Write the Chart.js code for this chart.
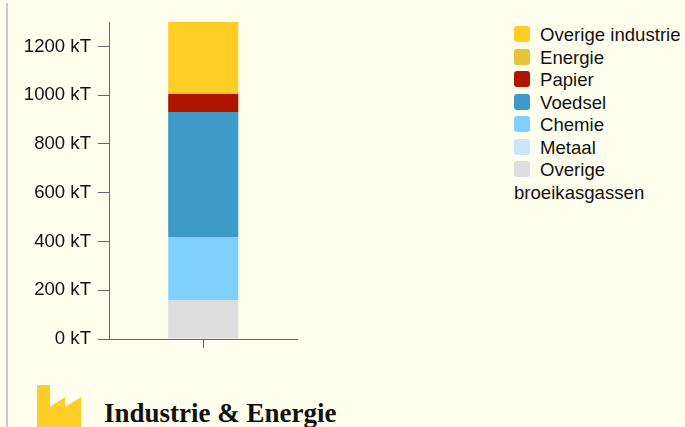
<!DOCTYPE html>
<html>
<head>
<meta charset="utf-8">
<script src="https://cdn.jsdelivr.net/npm/chart.js@4"></script>
<style>
  html, body { margin: 0; padding: 0; width: 685px; height: 427px; overflow: hidden; background: #ffffee; }
  #rule { position: absolute; left: 6px; top: 3px; bottom: 0; width: 2px; background: #cccccc; }
  #chart-box { position: absolute; left: 0; top: 0; width: 320px; height: 370px; }
  #legend { position: absolute; left: 514px; top: 24px; width: 171px; font: 18.6px/22.5px "Liberation Sans", sans-serif; color: #111; }
  #legend .swatch { display: inline-block; width: 16px; height: 16px; border-radius: 3px; margin-right: 10px; vertical-align: -1px; }
  #icon { position: absolute; left: 37px; top: 385px; }
  #title { position: absolute; left: 104px; top: 398px; font: bold 27px "Liberation Serif", serif; color: #111; white-space: nowrap; }
</style>
</head>
<body>
<div id="rule"></div>
<div id="chart-box"><canvas id="chart"></canvas></div>
<div id="legend"></div>
<svg id="icon" width="44" height="42"><path d="M0 0H13V22L28 12V22L44 12V42H0Z" fill="#ffce26"/></svg>
<div id="title">Industrie &amp; Energie</div>
<script>
// data, bottom of the stack first
const categories = [''];
const seriesNames = ['Overige broeikasgassen', 'Metaal', 'Chemie', 'Voedsel', 'Papier', 'Energie', 'Overige industrie'];
const seriesColors = ['#dddddd', '#cce5ff', '#80d0ff', '#3d9ac9', '#b01500', '#e8c237', '#ffce26'];
const overigeBroeikasgassen = [160];
const metaal = [0];
const chemie = [258];
const voedsel = [513];
const papier = [74];
const energie = [8];
const overigeIndustrie = [287];
const seriesValues = [overigeBroeikasgassen, metaal, chemie, voedsel, papier, energie, overigeIndustrie];
const tickValues = [0, 200, 400, 600, 800, 1000, 1200];

const axisColor = '#666666';

new Chart(document.getElementById('chart'), {
  type: 'bar',
  data: {
    labels: categories,
    datasets: seriesNames.map((name, i) => ({
      label: name,
      data: seriesValues[i],
      backgroundColor: seriesColors[i],
      borderWidth: 0,
      barPercentage: 1,
      categoryPercentage: 0.372,
    })),
  },
  options: {
    responsive: true,
    maintainAspectRatio: false,
    animation: false,
    layout: { padding: { top: 22, right: 22.5, left: 0, bottom: 0 } },
    plugins: { legend: { display: false }, tooltip: { enabled: false } },
    scales: {
      x: {
        stacked: true,
        border: { color: axisColor },
        grid: { color: axisColor, drawOnChartArea: false, tickLength: 9, offset: false },
        ticks: { display: true, padding: 0, font: { size: 1 } },
        afterFit(scale) { scale.height = 31; },
      },
      y: {
        stacked: true,
        min: 0,
        max: 1300,
        border: { color: axisColor },
        grid: { color: axisColor, drawOnChartArea: false, tickLength: 11 },
        afterBuildTicks(scale) { scale.ticks = tickValues.map(v => ({ value: v })); },
        ticks: {
          color: '#111',
          padding: 7,
          font: { family: '"Liberation Sans"', size: 18.6 },
          callback: v => v + ' kT',
        },
        afterFit(scale) { scale.width = 109; },
      },
    },
  },
});

// html legend, top of the stack first
const legendEl = document.getElementById('legend');
seriesNames.slice().reverse().forEach((name, i) => {
  const row = document.createElement('div');
  const swatch = document.createElement('span');
  swatch.className = 'swatch';
  swatch.style.background = seriesColors[seriesColors.length - 1 - i];
  row.appendChild(swatch);
  row.appendChild(document.createTextNode(name));
  legendEl.appendChild(row);
});
</script>
</body>
</html>
